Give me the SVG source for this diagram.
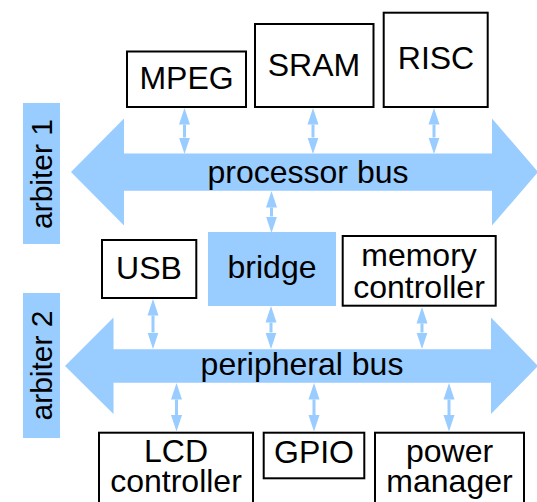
<svg xmlns="http://www.w3.org/2000/svg" width="537" height="502" viewBox="0 0 537 502">
<style>
.box{fill:#fff;stroke:#000;stroke-width:2}
.blue{fill:#99ccff;stroke:none}
.t{font-family:"Liberation Sans",Arial,sans-serif;font-size:32px;fill:#000;text-anchor:middle}
.arb{font-size:30px}
.conn{stroke:#99ccff;stroke-width:3;fill:none;marker-start:url(#head);marker-end:url(#head)}
</style>
<defs>
<marker id="head" markerUnits="userSpaceOnUse" markerWidth="17" markerHeight="12" refX="0" refY="5.5" orient="auto-start-reverse" viewBox="0 0 17 11">
<path d="M0,0 L16.5,5.5 L0,11 Z" fill="#99ccff"/>
</marker>
</defs>
<rect width="537" height="502" fill="#fff"/>
<g id="arbiter1"><rect class="blue" x="23" y="103" width="37" height="141"/><text class="t arb" transform="translate(52,174) rotate(-90)">arbiter 1</text></g>
<g id="arbiter2"><rect class="blue" x="23" y="293" width="37" height="145"/><text class="t arb" transform="translate(52,365.5) rotate(-90)">arbiter 2</text></g>
<g id="processor-bus"><path class="blue" d="M71,172 L124,118.5 L124,153.5 L492,153.5 L492,118.5 L538,172 L492,225.5 L492,190.7 L124,190.7 L124,225.5 Z"/><text class="t" x="308" y="183">processor bus</text></g>
<g id="peripheral-bus"><path class="blue" d="M65,366 L113.5,317.5 L113.5,349.3 L491,349.3 L491,317.5 L538,366 L491,414 L491,382.7 L113.5,382.7 L113.5,414 Z"/><text class="t" x="302" y="375">peripheral bus</text></g>
<g id="mpeg"><rect class="box" x="127" y="51.5" width="119" height="55.5"/><text class="t" x="186.5" y="89">MPEG</text></g>
<g id="sram"><rect class="box" x="255" y="24" width="118.5" height="83"/><text class="t" x="314" y="76">SRAM</text></g>
<g id="risc"><rect class="box" x="383.7" y="12.7" width="104" height="94.3"/><text class="t" x="436" y="69">RISC</text></g>
<g id="usb"><rect class="box" x="102" y="240" width="94.3" height="58"/><text class="t" x="149" y="279">USB</text></g>
<g id="bridge"><rect class="blue" x="208" y="232" width="128" height="74"/><text class="t" x="272" y="278">bridge</text></g>
<g id="memory-controller"><rect class="box" x="342.7" y="236" width="153" height="69.7"/><text class="t" x="419" y="265.5">memory<tspan x="419" dy="32">controller</tspan></text></g>
<g id="lcd-controller"><rect class="box" x="99" y="432.7" width="154" height="80"/><text class="t" x="176" y="461.5">LCD<tspan x="176" dy="30.2">controller</tspan></text></g>
<g id="gpio"><rect class="box" x="263.7" y="432.7" width="100.6" height="45.6"/><text class="t" x="314" y="463">GPIO</text></g>
<g id="power-manager"><rect class="box" x="375" y="432.7" width="149" height="80"/><text class="t" x="449.5" y="461.5">power<tspan x="449.5" dy="30.2">manager</tspan></text></g>
<g id="connectors">
<line class="conn" x1="184.5" y1="124.5" x2="184.5" y2="137.5"/>
<line class="conn" x1="313" y1="124.5" x2="313" y2="137.5"/>
<line class="conn" x1="434" y1="124.5" x2="434" y2="137.5"/>
<line class="conn" x1="271.5" y1="207.5" x2="271.5" y2="216.5"/>
<line class="conn" x1="153" y1="315.5" x2="153" y2="332.5"/>
<line class="conn" x1="271" y1="322.5" x2="271" y2="332.5"/>
<line class="conn" x1="422" y1="323.5" x2="422" y2="332.5"/>
<line class="conn" x1="176.5" y1="399.5" x2="176.5" y2="415"/>
<line class="conn" x1="314" y1="399.5" x2="314" y2="415"/>
<line class="conn" x1="449" y1="399.5" x2="449" y2="415"/>
</g>
</svg>
